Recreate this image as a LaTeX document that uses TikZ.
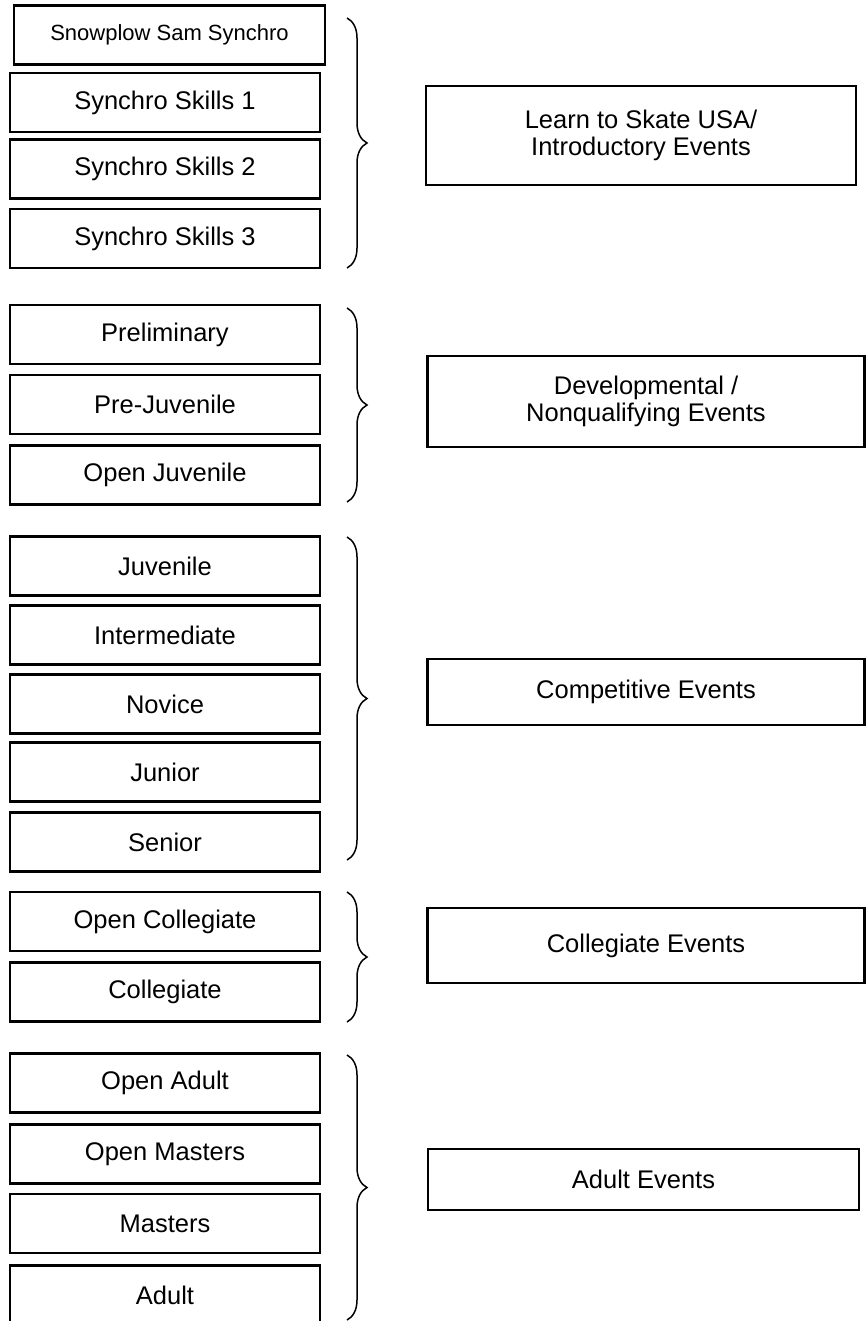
\documentclass[tikz,border=0pt]{standalone}
\usepackage{fontspec}
\setmainfont{Liberation Sans}
\usetikzlibrary{decorations.pathreplacing}
\tikzstyle{level} = [draw=black, line width=2.2pt, outer sep=0, inner sep=0,
    minimum width=310pt, minimum height=59pt,
    font=\fontsize{25.5}{27}\selectfont, align=center]
\tikzstyle{firstlevel} = [level, minimum width=311pt,
    font=\fontsize{22}{24}\selectfont]
\tikzstyle{group} = [draw=black, line width=2.2pt, outer sep=0, inner sep=0,
    font=\fontsize{25.5}{27}\selectfont, align=center]
\tikzstyle{curly} = [decorate, decoration={brace, amplitude=20pt},
    line width=1.5pt]

\begin{document}
\begin{tikzpicture}[x=1pt, y=1pt]
\path[use as bounding box, clip] (0,0) rectangle (866,-1321);

%%% INTRODUCTORY
\node[firstlevel] (snow) at (169.5,-35) {Snowplow Sam Synchro};
\node[level] (ss1) at (165,-102.5) {Synchro Skills 1};
\node[level] (ss2) at (165,-169) {Synchro Skills 2};
\node[level] (ss3) at (165,-238.5) {Synchro Skills 3};
\coordinate (b1top) at (347,-18);
\coordinate (b1bot) at (347,-268);
\draw[curly] (b1top) -- (b1bot);
\node[group, minimum width=430pt, minimum height=99pt] (intro) at (641,-135.5)
    {Learn to Skate USA/\\ Introductory Events};

%%% DEVELOPMENTAL
\node[level] (prelim) at (165,-334.5) {Preliminary};
\node[level] (prejuv) at (165,-404.5) {Pre-Juvenile};
\node[level] (openjuv) at (165,-475) {Open Juvenile};
\coordinate (b2top) at (347,-308);
\coordinate (b2bot) at (347,-502);
\draw[curly] (b2top) -- (b2bot);
\node[group, minimum width=437pt, minimum height=91pt] (devel) at (646,-401.5)
    {Developmental /\\ Nonqualifying Events};

%%% COMPETITIVE
\node[level] (juv) at (165,-566) {Juvenile};
\node[level] (inter) at (165,-635) {Intermediate};
\node[level] (novice) at (165,-704) {Novice};
\node[level] (junior) at (165,-772) {Junior};
\node[level] (senior) at (165,-842) {Senior};
\coordinate (b3top) at (347,-537);
\coordinate (b3bot) at (347,-860);
\draw[curly] (b3top) -- (b3bot);
\node[group, minimum width=437pt, minimum height=66pt] (compet) at (646,-692)
    {Competitive Events};

%%% COLLEGIATE
\node[level] (opencoll) at (165,-921.5) {Open Collegiate};
\node[level] (coll) at (165,-992) {Collegiate};
\coordinate (b4top) at (347,-892);
\coordinate (b4bot) at (347,-1022);
\draw[curly] (b4top) -- (b4bot);
\node[group, minimum width=437pt, minimum height=75pt] (collev) at (646,-945.5)
    {Collegiate Events};

%%% ADULT
\node[level] (openad) at (165,-1083) {Open Adult};
\node[level] (openmas) at (165,-1154) {Open Masters};
\node[level] (masters) at (165,-1223.5) {Masters};
\node[level] (adult) at (165,-1295) {Adult};
\coordinate (b5top) at (347,-1055);
\coordinate (b5bot) at (347,-1320);
\draw[curly] (b5top) -- (b5bot);
\node[group, minimum width=431pt, minimum height=61pt] (adultev) at (643.5,-1179.5)
    {Adult Events};

\end{tikzpicture}
\end{document}
